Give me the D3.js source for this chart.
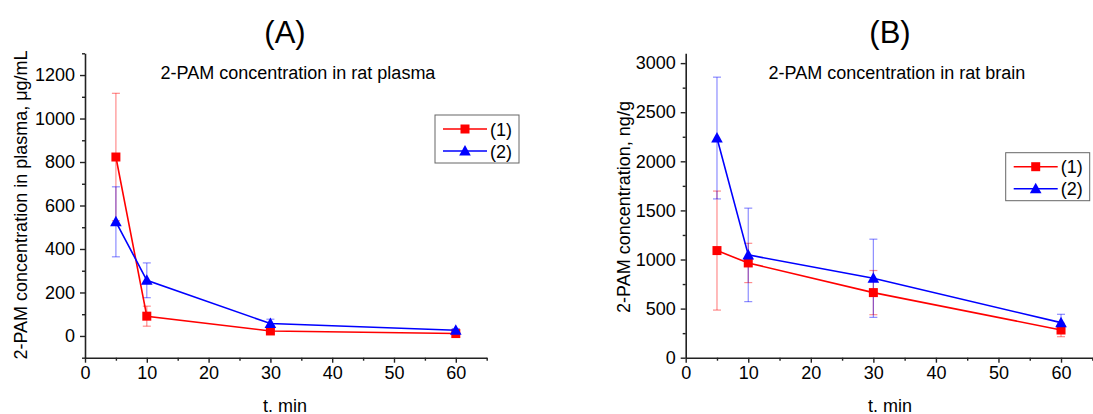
<!DOCTYPE html>
<html>
<head>
<meta charset="utf-8">
<script src="https://cdn.jsdelivr.net/npm/d3@7"></script>
<style>
  body { margin: 0; background: #fff; }
  text { font-family: "Liberation Sans", Arial, sans-serif; fill: #000; }
</style>
</head>
<body>
<div id="chart-area"></div>
<script>
// time points (min)
const times = [5, 10, 30, 60];
// plasma, ug/mL
const plasma1 = [823, 91, 23, 11];
const plasma1Err = [293, 46, 10, 6];
const plasma2 = [525, 256, 57, 26];
const plasma2Err = [161, 80, 20, 8];
// brain, ng/g
const brain1 = [1091, 965, 663, 282];
const brain1Err = [606, 200, 225, 68];
const brain2 = [2237, 1047, 809, 357];
const brain2Err = [620, 476, 398, 85];

const xTicks = [0, 10, 20, 30, 40, 50, 60];
const yTicksA = [0, 200, 400, 600, 800, 1000, 1200];
const yTicksB = [0, 500, 1000, 1500, 2000, 2500, 3000];
const seriesNames = ["(1)", "(2)"];

let svg = d3.select("#chart-area")
            .append("svg")
            .attr("width", 1093)
            .attr("height", 414);

function drawPanel(p) {
    let x = d3.scaleLinear().domain([0, 65]).range([p.left, p.right]);
    let y = d3.scaleLinear().domain(p.yDomain).range([357.7, 53.3]);
    let g = svg.append("g");

    // error bars first, pale
    p.series.forEach(function(s) {
        let eb = g.append("g").attr("stroke", s.color).attr("stroke-opacity", 0.45).attr("stroke-width", 1.2);
        times.forEach(function(t, i) {
            let cx = x(t), y0 = y(s.values[i] - s.err[i]), y1 = y(s.values[i] + s.err[i]);
            eb.append("line").attr("x1", cx).attr("x2", cx).attr("y1", y0).attr("y2", y1);
            eb.append("line").attr("x1", cx - 4).attr("x2", cx + 4).attr("y1", y0).attr("y2", y0);
            eb.append("line").attr("x1", cx - 4).attr("x2", cx + 4).attr("y1", y1).attr("y2", y1);
        });
    });

    // lines + markers
    p.series.forEach(function(s) {
        let line = d3.line().x(function(d, i) { return x(times[i]); }).y(function(d) { return y(d); });
        g.append("path").datum(s.values)
            .attr("d", line)
            .attr("fill", "none")
            .attr("stroke", s.color)
            .attr("stroke-width", 1.6);
        g.selectAll(null).data(s.values).enter()
            .append("path")
            .attr("transform", function(d, i) { return "translate(" + x(times[i]) + "," + y(d) + ")"; })
            .attr("d", s.shape)
            .attr("fill", s.color);
    });

    // x axis
    g.append("g")
        .attr("transform", "translate(0,357.7)")
        .call(d3.axisBottom(x).tickValues(d3.range(5, 66, 10)).tickSize(3).tickFormat(""))
        .call(function(a) { a.select(".domain").remove(); });
    let xa = g.append("g")
        .attr("transform", "translate(0,357.7)")
        .call(d3.axisBottom(x).tickValues(xTicks).tickFormat(d3.format("d")).tickSizeInner(5).tickSizeOuter(0).tickPadding(4));
    xa.selectAll("text").attr("font-size", "18px").attr("font-family", "Liberation Sans, Arial, sans-serif");

    // y axis
    let minor = d3.range(p.yDomain[0], p.yDomain[1] + 1, p.minorStep).filter(function(v) { return p.yTicks.indexOf(v) < 0; });
    g.append("g")
        .attr("transform", "translate(" + p.left + ",0)")
        .call(d3.axisLeft(y).tickValues(minor).tickSize(3).tickFormat(""))
        .call(function(a) { a.select(".domain").remove(); });
    let ya = g.append("g")
        .attr("transform", "translate(" + p.left + ",0)")
        .call(d3.axisLeft(y).tickValues(p.yTicks).tickFormat(d3.format("d")).tickSizeInner(5).tickSizeOuter(0).tickPadding(5));
    ya.selectAll("text").attr("font-size", "18px").attr("font-family", "Liberation Sans, Arial, sans-serif");
    g.selectAll(".domain").attr("stroke-width", 1.6).attr("stroke", "#222");
    g.selectAll(".tick line").attr("stroke-width", 1.4).attr("stroke", "#222");

    // titles
    g.append("text").text(p.title)
        .attr("x", p.titleX).attr("y", 43)
        .attr("font-size", "31px").attr("text-anchor", "middle");
    g.append("text").text(p.subtitle)
        .attr("x", p.subX).attr("y", 79)
        .attr("font-size", "18px").attr("text-anchor", "middle");
    g.append("text").text("t. min")
        .attr("x", p.titleX).attr("y", 412)
        .attr("font-size", "18px").attr("text-anchor", "middle");
    g.append("text").text(p.yLabel)
        .attr("transform", "translate(" + p.yLabelX + "," + p.yLabelY + ") rotate(-90)")
        .attr("font-size", "18px").attr("text-anchor", "middle");

    // legend
    let lg = g.append("g").attr("transform", "translate(" + p.legX + "," + p.legY + ")");
    lg.append("rect").attr("x", 0).attr("y", 0).attr("width", 84).attr("height", 48)
        .attr("fill", "#fff").attr("stroke", "#666").attr("stroke-width", 1);
    p.series.forEach(function(s, i) {
        let ry = 14 + i * 22;
        lg.append("line").attr("x1", 8).attr("x2", 52).attr("y1", ry).attr("y2", ry)
            .attr("stroke", s.color).attr("stroke-width", 1.6);
        lg.append("path").attr("transform", "translate(30," + ry + ")").attr("d", s.shape).attr("fill", s.color);
        lg.append("text").text(seriesNames[i]).attr("x", 55).attr("y", ry + 6.5).attr("font-size", "18px");
    });
}

let square = "M-4.5,-4.5H4.5V4.5H-4.5Z";
let triangle = "M0,-6L5.8,4.5H-5.8Z";

drawPanel({
    left: 85, right: 486.7, yDomain: [-100, 1300], yTicks: yTicksA, minorStep: 100,
    title: "(A)", titleX: 285, subtitle: "2-PAM concentration in rat plasma", subX: 298,
    yLabel: "2-PAM concentration in plasma, \u03bcg/mL", yLabelX: 27, yLabelY: 205,
    legX: 435, legY: 115,
    series: [
        {values: plasma1, err: plasma1Err, color: "#ff0000", shape: square},
        {values: plasma2, err: plasma2Err, color: "#0000ff", shape: triangle}
    ]
});

drawPanel({
    left: 685.7, right: 1092.3, yDomain: [0, 3100], yTicks: yTicksB, minorStep: 250,
    title: "(B)", titleX: 890, subtitle: "2-PAM concentration in rat brain", subX: 897,
    yLabel: "2-PAM concentration, ng/g", yLabelX: 630, yLabelY: 207,
    legX: 1005.7, legY: 152.7,
    series: [
        {values: brain1, err: brain1Err, color: "#ff0000", shape: square},
        {values: brain2, err: brain2Err, color: "#0000ff", shape: triangle}
    ]
});
</script>
</body>
</html>
